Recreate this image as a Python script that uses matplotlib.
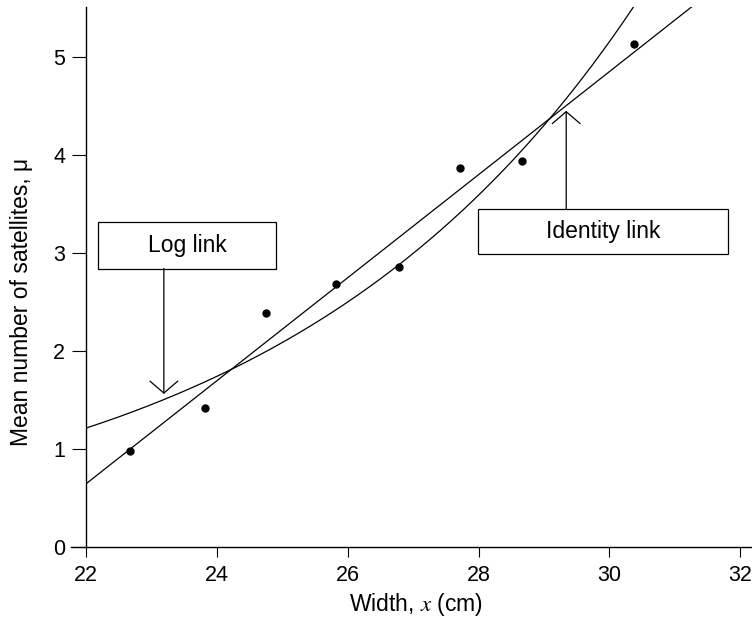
import numpy as np
import matplotlib
matplotlib.use("Agg")
import matplotlib.pyplot as plt

plt.rcParams['font.family'] = ['Liberation Sans', 'DejaVu Sans']
plt.rcParams['mathtext.fontset'] = 'stix'

# Observed group means (width, mean satellites)
width_means = [22.67, 23.82, 24.75, 25.82, 26.78, 27.72, 28.66, 30.38]
sat_means = [0.98, 1.42, 2.39, 2.68, 2.86, 3.87, 3.94, 5.13]

# Fitted models, coefficients
log_link_coef = [-3.793, 0.1811]      # log(mu) = a + b x
identity_coef = [-10.93, 0.526]       # mu = a + b x

x_ticks = [22, 24, 26, 28, 30, 32]
y_ticks = [0, 1, 2, 3, 4, 5]

fig = plt.figure(figsize=(7.52, 6.17), dpi=100)
ax = fig.add_axes([86/752, 70.3/617, 666/752, 539.7/617])

xlim = (22, 32.18)
ylim = (0, 5.51)
ax.set_xlim(*xlim)
ax.set_ylim(*ylim)

xx = np.linspace(22, 32.18, 400)
mu_log = np.exp(log_link_coef[0] + log_link_coef[1] * xx)
mu_id = identity_coef[0] + identity_coef[1] * xx
ax.plot(xx, mu_log, color='black', lw=0.9)
ax.plot(xx, mu_id, color='black', lw=0.9)
ax.plot(width_means, sat_means, 'o', color='black', ms=5)

# spines
for s in ['top', 'right', 'bottom']:
    ax.spines[s].set_visible(False)
ax.spines['left'].set_linewidth(1.0)
ax.plot([21.77, 32.18], [0, 0], color='black', lw=1.0, clip_on=False)

ax.set_xticks(x_ticks)
ax.set_yticks(y_ticks)
ax.tick_params(axis='y', direction='out', length=10, width=0.8, pad=5, labelsize=15.5)
ax.tick_params(axis='x', direction='out', length=7, width=0.8, pad=6, labelsize=15.5)

ax.set_xlabel(r'Width, $x$ (cm)', fontsize=16.5)
ax.set_ylabel('Mean number of satellites, \u03bc', fontsize=16.5)
ax.xaxis.set_label_coords(0.4955, -0.082)
ax.yaxis.set_label_coords(-0.079, 0.453)

# Annotation boxes
def box(x0, x1, y0, y1, text):
    ax.add_patch(plt.Rectangle((x0, y0), x1 - x0, y1 - y0, fill=True,
                               facecolor='white', edgecolor='black', lw=0.9, zorder=3))
    ax.text((x0 + x1) / 2, (y0 + y1) / 2, text, ha='center', va='center',
            fontsize=16.5, zorder=4)

box(22.19, 24.90, 2.84, 3.31, 'Log link')
box(27.99, 31.81, 2.99, 3.45, 'Identity link')

arrow_style = dict(arrowstyle='->,head_length=0.86,head_width=1.0', color='black', lw=0.9,
                   shrinkA=0, shrinkB=0)
ax.annotate('', xy=(23.19, 1.56), xytext=(23.19, 2.84), arrowprops=arrow_style)
ax.annotate('', xy=(29.34, 4.45), xytext=(29.34, 3.45), arrowprops=arrow_style)

fig.savefig('out.png', dpi=100)
